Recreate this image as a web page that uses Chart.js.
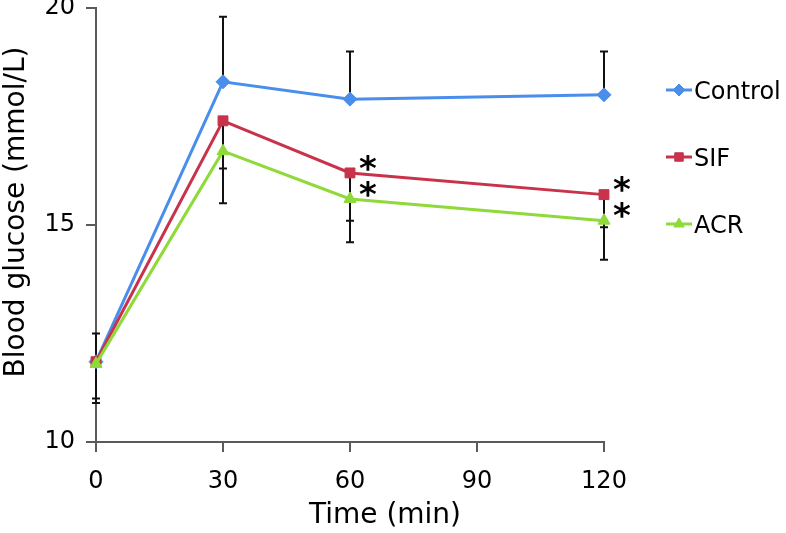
<!DOCTYPE html>
<html>
<head>
<meta charset="utf-8">
<script src="https://cdn.jsdelivr.net/npm/chart.js@4"></script>
<style>
html,body{margin:0;padding:0;background:#fff;}
#wrap{width:786px;height:533px;position:relative;}
</style>
</head>
<body>
<div id="wrap"><canvas id="c" width="786" height="533"></canvas></div>
<script>
const times = [0, 30, 60, 120];
const xTicks = [0, 30, 60, 90, 120];
const yTicks = [10, 15, 20];
const seriesNames = ['Control', 'SIF', 'ACR'];
const controlValues = [11.85, 18.3, 17.9, 18.0];
const sifValues = [11.85, 17.4, 16.2, 15.7];
const acrValues = [11.8, 16.7, 15.6, 15.1];
const controlErrPlus = [0.65, 1.5, 1.1, 1.0];
const sifErrMinus = [0.85, 1.1, 1.1, 0.75];
const acrErrMinus = [0.9, 1.2, 1.0, 0.9];
const sifSig = [false, false, true, true];
const acrSig = [false, false, true, true];
const xTitle = 'Time (min)';
const yTitle = 'Blood glucose (mmol/L)';

const FONT = "'DejaVu Sans', Verdana, sans-serif";
const colors = ['#4a8eec', '#c8324a', '#8fd93a'];
const styles = ['rectRot', 'rect', 'triangle'];
const radii = [7, 7, 7];

function pts(vals){ return times.map((t,i)=>({x:t, y:vals[i]})); }

const errSpec = [
  {vals: controlValues, err: controlErrPlus, dir: 1},
  {vals: sifValues, err: sifErrMinus, dir: -1},
  {vals: acrValues, err: acrErrMinus, dir: -1}
];
const sigSpec = [null, sifSig, acrSig];

const errorBars = {
  id: 'errorBars',
  beforeDatasetsDraw(chart){
    const ctx = chart.ctx, xs = chart.scales.x, ys = chart.scales.y;
    ctx.save();
    ctx.strokeStyle = '#111';
    ctx.lineWidth = 2;
    errSpec.forEach(s=>{
      times.forEach((t,i)=>{
        const px = xs.getPixelForValue(t);
        const y0 = ys.getPixelForValue(s.vals[i]);
        const y1 = ys.getPixelForValue(s.vals[i] + s.dir*s.err[i]);
        ctx.beginPath();
        ctx.moveTo(px, y0); ctx.lineTo(px, y1);
        ctx.moveTo(px-4, y1); ctx.lineTo(px+4, y1);
        ctx.moveTo(px-4, y0); ctx.lineTo(px+4, y0);
        ctx.stroke();
      });
    });
    ctx.restore();
  },
  afterDatasetsDraw(chart){
    const ctx = chart.ctx, xs = chart.scales.x, ys = chart.scales.y;
    ctx.save();
    ctx.fillStyle = '#000';
    ctx.font = 'bold 34px ' + FONT;
    ctx.textAlign = 'center';
    ctx.textBaseline = 'middle';
    errSpec.forEach((s,k)=>{
      const sig = sigSpec[k];
      if(!sig) return;
      times.forEach((t,i)=>{
        if(!sig[i]) return;
        const px = xs.getPixelForValue(t);
        const py = ys.getPixelForValue(s.vals[i]);
        ctx.fillText('*', px + 18, py - 2);
      });
    });
    // axis titles
    ctx.font = '28px ' + FONT;
    ctx.textAlign = 'center';
    ctx.textBaseline = 'middle';
    ctx.fillText(xTitle, 385, 516);
    ctx.save();
    ctx.translate(17, 212);
    ctx.rotate(-Math.PI/2);
    ctx.fillText(yTitle, 0, 0);
    ctx.restore();
    // legend
    const legendY = [90, 157, 224];
    seriesNames.forEach((name,k)=>{
      const y = legendY[k];
      ctx.strokeStyle = colors[k];
      ctx.lineWidth = 3;
      ctx.beginPath(); ctx.moveTo(666, y); ctx.lineTo(692, y); ctx.stroke();
      ctx.fillStyle = colors[k];
      ctx.lineWidth = 1;
      Chart.helpers.drawPoint(ctx, {pointStyle: styles[k], radius: radii[k]-1, borderWidth: 1}, 679, y);
      ctx.fillStyle = '#000';
      ctx.font = '24px ' + FONT;
      ctx.textAlign = 'left';
      ctx.textBaseline = 'middle';
      ctx.fillText(name, 694, y + 3);
    });
    ctx.restore();
  }
};

const datasets = [controlValues, sifValues, acrValues].map((v,k)=>({
  label: seriesNames[k],
  data: pts(v),
  borderColor: colors[k],
  backgroundColor: colors[k],
  borderWidth: 3,
  pointStyle: styles[k],
  pointRadius: radii[k],
  pointBorderWidth: 1,
  tension: 0,
  clip: false
}));
datasets.reverse();

new Chart(document.getElementById('c'), {
  type: 'line',
  data: { datasets },
  options: {
    responsive: false,
    animation: false,
    events: [],
    layout: { padding: { top: 8, right: 182, left: 0, bottom: 0 } },
    plugins: { legend: { display: false }, tooltip: { enabled: false } },
    scales: {
      x: {
        type: 'linear', min: 0, max: 120,
        afterBuildTicks(axis){ axis.ticks = xTicks.map(v=>({value:v})); },
        afterFit(axis){ axis.height = 91; },
        grid: { drawOnChartArea: false, drawTicks: true, tickLength: 10, color: '#5a5a5a', lineWidth: 2 },
        border: { color: '#5a5a5a', width: 2 },
        ticks: { color: '#000', font: { family: FONT, size: 24 }, padding: 15, maxRotation: 0 },
        title: { display: false }
      },
      y: {
        type: 'linear', min: 10, max: 20,
        afterBuildTicks(axis){ axis.ticks = yTicks.map(v=>({value:v})); },
        afterFit(axis){ axis.width = 96; axis.paddingTop = 0; axis.paddingBottom = 0; },
        grid: { drawOnChartArea: false, drawTicks: true, tickLength: 10, color: '#5a5a5a', lineWidth: 2 },
        border: { color: '#5a5a5a', width: 2 },
        ticks: { color: '#000', font: { family: FONT, size: 24 }, padding: 11 },
        title: { display: false }
      }
    }
  },
  plugins: [errorBars]
});
</script>
</body>
</html>
